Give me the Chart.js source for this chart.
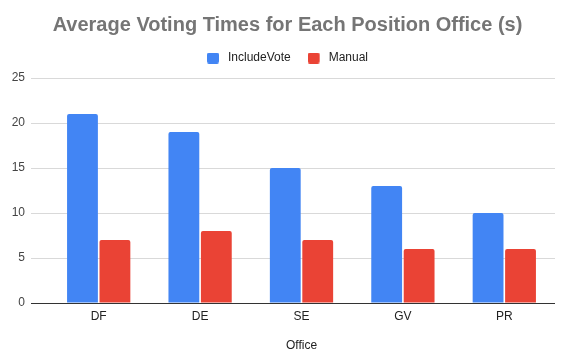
<!DOCTYPE html>
<html>
<head>
<meta charset="utf-8">
<script src="https://cdn.jsdelivr.net/npm/chart.js@4.4.0/dist/chart.umd.min.js"></script>
<style>
  html, body { margin: 0; padding: 0; background: #fff; }
  #wrap { width: 562px; height: 349px; }
</style>
</head>
<body>
<div id="wrap"><canvas id="chart" width="562" height="349"></canvas></div>
<script>
// dữ liệu của biểu đồ
const offices = ['DF', 'DE', 'SE', 'GV', 'PR'];
const includeVote = [21, 19, 15, 13, 10];
const manual = [7, 8, 7, 6, 6];
const yTicks = [0, 5, 10, 15, 20, 25];

const FONT = 'Arial, "Liberation Sans", sans-serif';

// ô vuông legend có khoảng trống bên phải (giống Google Charts)
function legendBox(color) {
    const c = document.createElement('canvas');
    c.width = 15;
    c.height = 11;
    const g = c.getContext('2d');
    g.fillStyle = color;
    g.beginPath();
    g.roundRect(0, 0, 12, 11, 2);
    g.fill();
    return c;
}

// thêm khoảng trống dưới legend, canh title + legend theo vùng vẽ
const headerFix = {
    id: 'headerFix',
    afterInit(chart) {
        const legend = chart.legend;
        if (!legend) return;
        const fit = legend.fit.bind(legend);
        legend.fit = function () {
            fit();
            this.height += 4;
        };
    },
    afterLayout(chart) {
        if (chart.titleBlock) chart.titleBlock.left += 20;
        if (chart.legend) chart.legend.left += 20;
    }
};

const ctx = document.getElementById('chart').getContext('2d');
window.myChart = new Chart(ctx, {
    type: 'bar',
    data: {
        labels: offices,
        datasets: [
            {
                label: 'IncludeVote',
                data: includeVote,
                backgroundColor: '#4285F4',
                pointStyle: legendBox('#4285F4'),
                borderRadius: { topLeft: 2, topRight: 2 },
                borderSkipped: 'bottom',
                categoryPercentage: 0.64,
                barPercentage: 0.95
            },
            {
                label: 'Manual',
                data: manual,
                backgroundColor: '#EA4335',
                pointStyle: legendBox('#EA4335'),
                borderRadius: { topLeft: 2, topRight: 2 },
                borderSkipped: 'bottom',
                categoryPercentage: 0.64,
                barPercentage: 0.95
            }
        ]
    },
    plugins: [headerFix],
    options: {
        responsive: false,
        animation: false,
        layout: { padding: { left: 0, right: 7, top: 0, bottom: 0 } },
        plugins: {
            title: {
                display: true,
                text: 'Average Voting Times for Each Position Office (s)',
                color: '#757575',
                font: { family: FONT, size: 20, weight: 'bold' },
                padding: { top: 13, bottom: -2 }
            },
            legend: {
                display: true,
                labels: {
                    usePointStyle: true,
                    pointStyleWidth: 15,
                    boxHeight: 11,
                    padding: 17,
                    color: '#222',
                    font: { family: FONT, size: 12 }
                }
            },
            tooltip: { enabled: false }
        },
        scales: {
            x: {
                grid: { display: false, drawTicks: false },
                border: { display: false },
                ticks: { color: '#222', font: { family: FONT, size: 12 }, padding: 6 },
                title: {
                    display: true,
                    text: 'Office',
                    color: '#222',
                    font: { family: FONT, size: 12 },
                    padding: { top: -4, bottom: -4 }
                },
                afterFit: s => { s.height = 46; }
            },
            y: {
                min: 0,
                max: 25,
                afterBuildTicks: s => { s.ticks = yTicks.map(v => ({ value: v })); },
                grid: {
                    color: c => (c.tick && c.tick.value === 0) ? '#333' : '#d9d9d9',
                    lineWidth: 1,
                    drawTicks: true,
                    tickLength: 17
                },
                border: { display: false },
                ticks: { color: '#444', font: { family: FONT, size: 12 }, padding: 6 },
                afterFit: s => { s.width = 48; }
            }
        }
    }
});
</script>
</body>
</html>
